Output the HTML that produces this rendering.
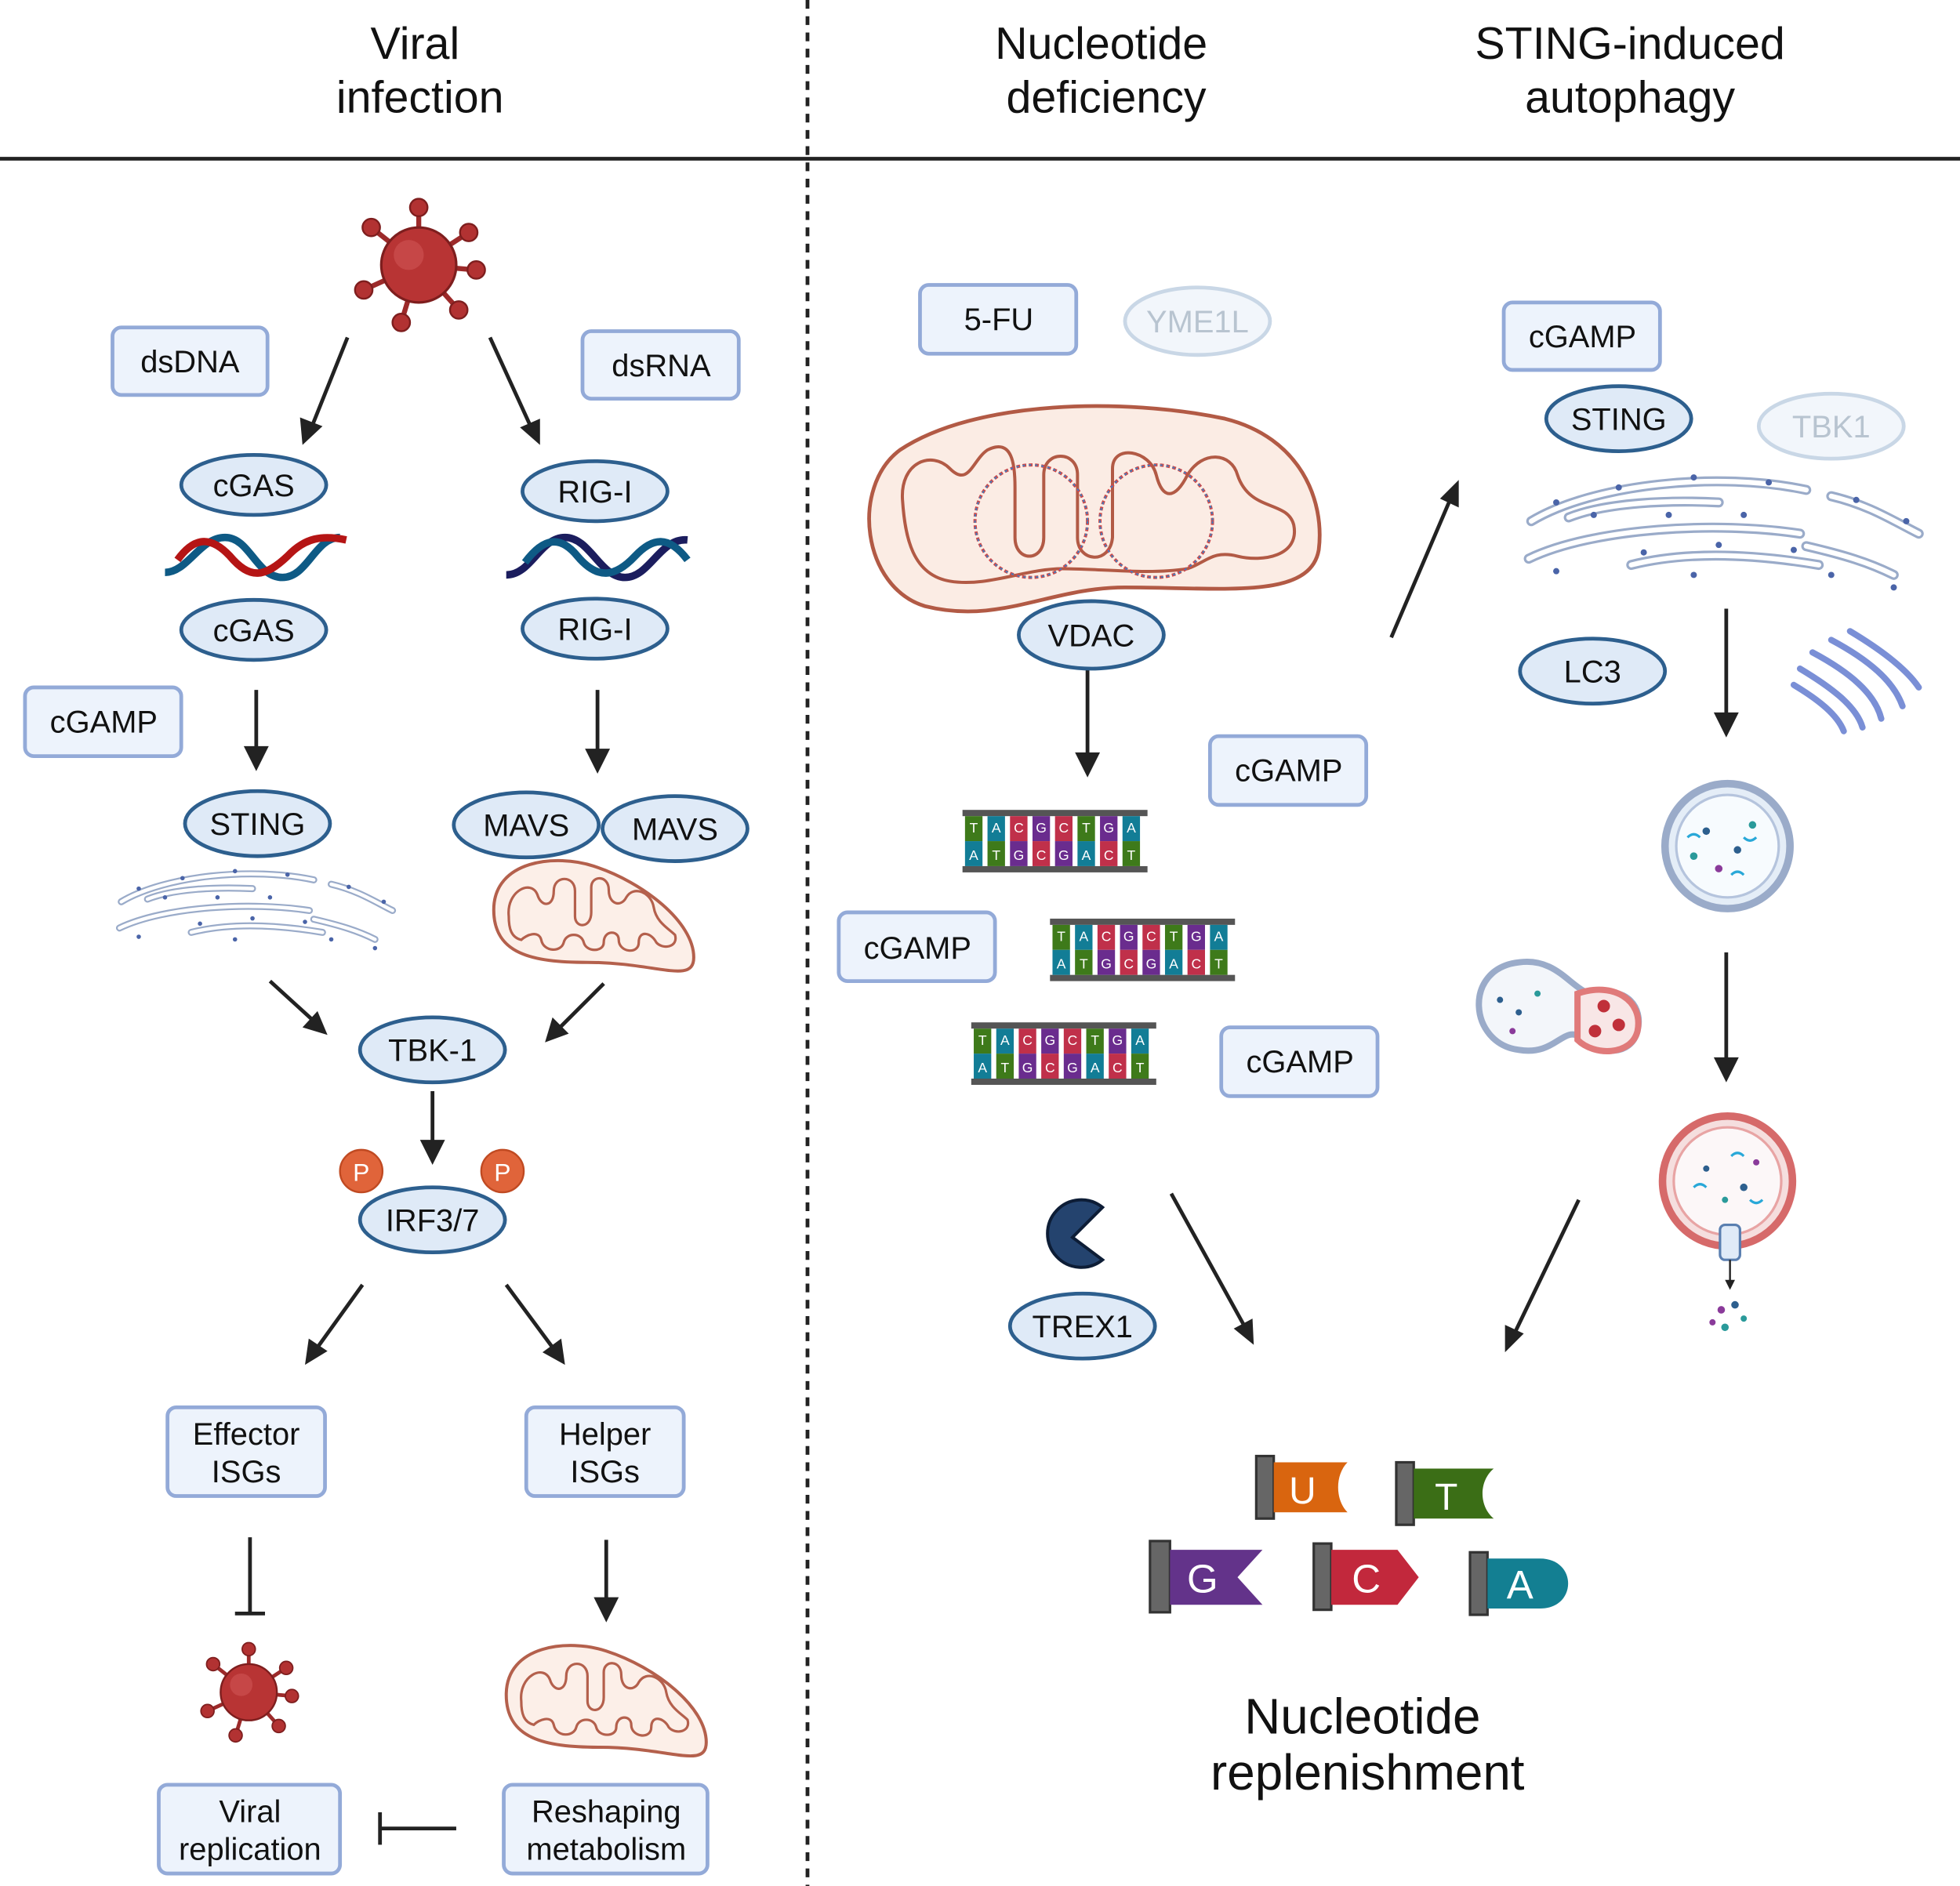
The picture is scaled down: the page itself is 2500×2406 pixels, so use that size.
<!DOCTYPE html>
<html><head><meta charset="utf-8"><style>
html,body{margin:0;padding:0;background:#fff}
svg{display:block}
text{font-family:"Liberation Sans",sans-serif;fill:#111}
</style></head><body>
<svg width="2500" height="2406" viewBox="0 0 1568 1509" preserveAspectRatio="none" xmlns="http://www.w3.org/2000/svg">
<defs>
<g id="virus">
 <g stroke="#9c2a2a" stroke-width="4">
  <line x1="0" y1="0" x2="0" y2="-46"/><line x1="0" y1="0" x2="40" y2="-26"/><line x1="0" y1="0" x2="46" y2="4"/>
  <line x1="0" y1="0" x2="32" y2="36"/><line x1="0" y1="0" x2="-14" y2="46"/><line x1="0" y1="0" x2="-44" y2="20"/>
  <line x1="0" y1="0" x2="-38" y2="-30"/>
 </g>
 <g fill="#b23232" stroke="#7e1e1e" stroke-width="1.5">
  <circle cx="0" cy="-46" r="7"/><circle cx="40" cy="-26" r="7"/><circle cx="46" cy="4" r="7"/><circle cx="32" cy="36" r="7"/>
  <circle cx="-14" cy="46" r="7"/><circle cx="-44" cy="20" r="7"/><circle cx="-38" cy="-30" r="7"/>
 </g>
 <circle r="30" fill="#b83434" stroke="#7e1e1e" stroke-width="2"/>
 <circle cx="-8" cy="-8" r="12" fill="#cf5555" opacity="0.6"/>
</g>
<g id="mito">
 <path d="M10,40 C10,0 60,-5 90,5 C130,18 170,50 170,78 C170,100 140,82 85,82 C40,82 10,75 10,40 Z" fill="#fcefe8" stroke="#b4604c" stroke-width="2.5"/>
 <path d="M22,45 C20,25 40,15 45,28 C48,38 58,38 58,25 C58,12 75,12 75,25 L75,45 C75,55 88,55 88,42 L88,22 C88,12 102,12 102,24 C102,36 112,38 116,30 C122,20 136,26 138,38 C140,50 150,55 155,60 C158,70 145,72 140,66 C136,58 126,56 126,66 C126,76 110,74 110,64 C110,56 98,56 98,66 C98,74 84,74 82,66 C80,58 68,58 66,66 C64,74 50,74 48,64 C46,56 36,60 32,64 C24,62 22,55 22,45 Z" fill="none" stroke="#b4604c" stroke-width="2"/>
</g>
<g id="er" fill="none">
 <g stroke="#9aabc9" stroke-width="8" stroke-linecap="round">
  <path d="M10,45 C60,15 160,5 230,20"/><path d="M40,42 C70,30 120,28 160,30"/><path d="M250,25 C280,32 300,45 320,55"/>
  <path d="M8,75 C60,50 160,45 225,55"/><path d="M90,80 C130,70 180,70 240,80"/><path d="M230,65 C260,72 280,78 300,88"/>
 </g>
 <g stroke="#fff" stroke-width="4" stroke-linecap="round">
  <path d="M10,45 C60,15 160,5 230,20"/><path d="M40,42 C70,30 120,28 160,30"/><path d="M250,25 C280,32 300,45 320,55"/>
  <path d="M8,75 C60,50 160,45 225,55"/><path d="M90,80 C130,70 180,70 240,80"/><path d="M230,65 C260,72 280,78 300,88"/>
 </g>
 <g fill="#4a64a8">
  <circle cx="30" cy="30" r="2.5"/><circle cx="80" cy="18" r="2.5"/><circle cx="140" cy="10" r="2.5"/><circle cx="200" cy="14" r="2.5"/>
  <circle cx="270" cy="28" r="2.5"/><circle cx="310" cy="45" r="2.5"/><circle cx="60" cy="40" r="2.5"/><circle cx="120" cy="40" r="2.5"/>
  <circle cx="180" cy="40" r="2.5"/><circle cx="30" cy="85" r="2.5"/><circle cx="100" cy="70" r="2.5"/><circle cx="160" cy="64" r="2.5"/>
  <circle cx="220" cy="68" r="2.5"/><circle cx="250" cy="88" r="2.5"/><circle cx="300" cy="98" r="2.5"/><circle cx="140" cy="88" r="2.5"/>
 </g>
</g>
<g id="ladder">
 <rect x="0" y="0" width="148" height="5" fill="#555"/><rect x="0" y="45" width="148" height="5" fill="#555"/>
 <g>
  <rect x="2" y="5" width="14" height="20" fill="#3e7a1a"/><rect x="2" y="25" width="14" height="20" fill="#127d96"/>
  <rect x="20" y="5" width="14" height="20" fill="#127d96"/><rect x="20" y="25" width="14" height="20" fill="#3e7a1a"/>
  <rect x="38" y="5" width="14" height="20" fill="#c0304a"/><rect x="38" y="25" width="14" height="20" fill="#6a2c8e"/>
  <rect x="56" y="5" width="14" height="20" fill="#6a2c8e"/><rect x="56" y="25" width="14" height="20" fill="#c0304a"/>
  <rect x="74" y="5" width="14" height="20" fill="#c0304a"/><rect x="74" y="25" width="14" height="20" fill="#6a2c8e"/>
  <rect x="92" y="5" width="14" height="20" fill="#3e7a1a"/><rect x="92" y="25" width="14" height="20" fill="#127d96"/>
  <rect x="110" y="5" width="14" height="20" fill="#6a2c8e"/><rect x="110" y="25" width="14" height="20" fill="#c0304a"/>
  <rect x="128" y="5" width="14" height="20" fill="#127d96"/><rect x="128" y="25" width="14" height="20" fill="#3e7a1a"/>
 </g>
</g>
</defs>

<style>
.p{fill:#dfeaf7;stroke:#2d5f8e;stroke-width:3}
.b{fill:#edf3fc;stroke:#93aad8;stroke-width:3}
.f{fill:#f2f6fb;stroke:#c9d7e6;stroke-width:3}
.a{stroke:#222;stroke-width:3;fill:none}
.t{font-size:25px;text-anchor:middle}
.h{font-size:36px;text-anchor:middle}
.l{font-size:11px;fill:#fff;text-anchor:middle}
</style>

<text class="h" x="332" y="47">Viral</text><text class="h" x="336" y="90">infection</text>
<text class="h" x="881" y="47">Nucleotide</text><text class="h" x="885" y="90">deficiency</text>
<text class="h" x="1304" y="47">STING-induced</text><text class="h" x="1304" y="90">autophagy</text>
<line x1="0" y1="127" x2="1568" y2="127" stroke="#222" stroke-width="3"/>
<line x1="646" y1="0" x2="646" y2="1509" stroke="#222" stroke-width="3" stroke-dasharray="7,6"/>

<g fill="#222">
<line class="a" x1="278" y1="270" x2="250" y2="340"/><polygon points="242,356 240,334 258,341"/>
<line class="a" x1="392" y1="270" x2="424" y2="340"/><polygon points="432,356 416,342 432,335"/>
<line class="a" x1="205" y1="552" x2="205" y2="600"/><polygon points="205,617 195,597 215,597"/>
<line class="a" x1="478" y1="552" x2="478" y2="600"/><polygon points="478,619 468,599 488,599"/>
<line class="a" x1="216" y1="785" x2="250" y2="816"/><polygon points="262,828 242,822 254,809"/>
<line class="a" x1="483" y1="787" x2="448" y2="822"/><polygon points="436,834 442,814 455,827"/>
<line class="a" x1="346" y1="873" x2="346" y2="915"/><polygon points="346,932 336,912 356,912"/>
<line class="a" x1="290" y1="1028" x2="254" y2="1078"/><polygon points="244,1092 247,1071 262,1081"/>
<line class="a" x1="405" y1="1028" x2="442" y2="1078"/><polygon points="452,1092 434,1082 449,1071"/>
<line class="a" x1="200" y1="1230" x2="200" y2="1291"/><line class="a" x1="188" y1="1291" x2="212" y2="1291"/>
<line class="a" x1="485" y1="1232" x2="485" y2="1280"/><polygon points="485,1298 475,1278 495,1278"/>
<line class="a" x1="365" y1="1463" x2="304" y2="1463"/><line class="a" x1="304" y1="1450" x2="304" y2="1476"/>
<line class="a" x1="870" y1="535" x2="870" y2="605"/><polygon points="870,622 860,602 880,602"/>
<line class="a" x1="937" y1="955" x2="995" y2="1060"/><polygon points="1003,1076 987,1063 1002,1055"/>
<line class="a" x1="1113" y1="510" x2="1160" y2="400"/><polygon points="1167,384 1167,406 1152,399"/>
<line class="a" x1="1381" y1="487" x2="1381" y2="572"/><polygon points="1381,590 1371,570 1391,570"/>
<line class="a" x1="1381" y1="762" x2="1381" y2="848"/><polygon points="1381,866 1371,846 1391,846"/>
<line class="a" x1="1263" y1="960" x2="1212" y2="1066"/><polygon points="1204,1082 1204,1060 1219,1067"/>
</g>

<use href="#virus" x="335" y="212"/>
<rect class="b" x="90" y="262" width="124" height="54" rx="7"/><text class="t" x="152" y="298">dsDNA</text>
<rect class="b" x="466" y="265" width="125" height="54" rx="7"/><text class="t" x="529" y="301">dsRNA</text>

<ellipse class="p" cx="203" cy="388" rx="58" ry="24"/><text class="t" x="203" y="397">cGAS</text>
<path d="M132,458 C150,458 160,430 180,430 C200,430 205,462 226,462 C246,462 252,430 272,430" stroke="#0e5a85" stroke-width="6" fill="none"/>
<path d="M142,448 C155,430 168,428 184,445 C200,464 212,462 230,445 C244,430 258,428 277,432" stroke="#b51515" stroke-width="6" fill="none"/>
<ellipse class="p" cx="203" cy="504" rx="58" ry="24"/><text class="t" x="203" y="513">cGAS</text>

<ellipse class="p" cx="476" cy="393" rx="58" ry="24"/><text class="t" x="476" y="402">RIG-I</text>
<path d="M405,460 C425,460 432,430 452,430 C472,430 480,462 500,462 C520,462 528,430 550,432" stroke="#1b1d5e" stroke-width="6" fill="none"/>
<path d="M420,450 C435,430 448,428 462,445 C478,464 492,462 508,445 C522,430 535,428 550,448" stroke="#0e5a85" stroke-width="6" fill="none"/>
<ellipse class="p" cx="476" cy="503" rx="58" ry="24"/><text class="t" x="476" y="512">RIG-I</text>

<rect class="b" x="20" y="550" width="125" height="55" rx="7"/><text class="t" x="83" y="586">cGAMP</text>
<g transform="translate(90,690) scale(0.7)"><use href="#er"/></g>
<g transform="translate(385,688)"><use href="#mito"/></g>
<ellipse class="p" cx="206" cy="659" rx="58" ry="26"/><text class="t" x="206" y="668">STING</text>
<ellipse class="p" cx="421" cy="660" rx="58" ry="26"/><text class="t" x="421" y="669">MAVS</text>
<ellipse class="p" cx="540" cy="663" rx="58" ry="26"/><text class="t" x="540" y="672">MAVS</text>

<ellipse class="p" cx="346" cy="840" rx="58" ry="26"/><text class="t" x="346" y="849">TBK-1</text>
<circle cx="289" cy="937" r="17" fill="#e0643a" stroke="#c04a22" stroke-width="1.5"/><text x="289" y="945" style="font-size:20px;text-anchor:middle;fill:#fff">P</text>
<circle cx="402" cy="937" r="17" fill="#e0643a" stroke="#c04a22" stroke-width="1.5"/><text x="402" y="945" style="font-size:20px;text-anchor:middle;fill:#fff">P</text>
<ellipse class="p" cx="346" cy="976" rx="58" ry="26"/><text class="t" x="346" y="985">IRF3/7</text>

<rect class="b" x="134" y="1126" width="126" height="71" rx="7"/><text class="t" x="197" y="1156">Effector</text><text class="t" x="197" y="1186">ISGs</text>
<rect class="b" x="421" y="1126" width="126" height="71" rx="7"/><text class="t" x="484" y="1156">Helper</text><text class="t" x="484" y="1186">ISGs</text>
<g transform="translate(199,1354) scale(0.75)"><use href="#virus"/></g>
<g transform="translate(395,1316)"><use href="#mito"/></g>
<rect class="b" x="127" y="1428" width="145" height="71" rx="7"/><text class="t" x="200" y="1458">Viral</text><text class="t" x="200" y="1488">replication</text>
<rect class="b" x="403" y="1428" width="163" height="71" rx="7"/><text class="t" x="485" y="1458">Reshaping</text><text class="t" x="485" y="1488">metabolism</text>

<rect class="b" x="736" y="228" width="125" height="55" rx="7"/><text class="t" x="799" y="264">5-FU</text>
<ellipse class="f" cx="958" cy="257" rx="58" ry="27"/><text class="t" x="958" y="266" style="fill:#b8c4d0">YME1L</text>
<path d="M720,360 C780,320 900,318 980,335 C1040,350 1060,400 1055,440 C1048,480 980,470 900,470 C840,470 800,500 740,485 C690,470 680,390 720,360 Z" fill="#fbece4" stroke="#b25a45" stroke-width="3"/>
<path d="M722,400 C720,370 745,360 760,375 C775,390 778,368 790,360 C810,350 812,372 812,390 L812,430 C812,450 835,450 835,430 L835,380 C835,360 862,360 862,380 L862,430 C862,450 888,452 890,430 L890,375 C890,355 920,360 925,380 C930,400 940,400 950,380 C962,360 985,362 990,380 C1000,410 1030,400 1035,420 C1040,445 1010,450 990,445 C970,440 965,450 950,455 C920,460 880,455 850,455 C820,455 790,470 760,465 C730,460 724,430 722,400 Z" fill="none" stroke="#b25a45" stroke-width="2.5"/>
<circle cx="825" cy="417" r="45" fill="none" stroke="#d04848" stroke-width="2.5" stroke-dasharray="3,2"/>
<circle cx="825" cy="417" r="45" fill="none" stroke="#3f7fbf" stroke-width="1.2" stroke-dasharray="2,3"/>
<circle cx="925" cy="417" r="45" fill="none" stroke="#d04848" stroke-width="2.5" stroke-dasharray="3,2"/>
<circle cx="925" cy="417" r="45" fill="none" stroke="#3f7fbf" stroke-width="1.2" stroke-dasharray="2,3"/>
<ellipse class="p" cx="873" cy="508" rx="58" ry="27"/><text class="t" x="873" y="517">VDAC</text>

<rect class="b" x="968" y="589" width="125" height="55" rx="7"/><text class="t" x="1031" y="625">cGAMP</text>
<use href="#ladder" x="770" y="648"/>
<text class="l" x="779" y="666">T</text><text class="l" x="797" y="666">A</text><text class="l" x="815" y="666">C</text><text class="l" x="833" y="666">G</text><text class="l" x="851" y="666">C</text><text class="l" x="869" y="666">T</text><text class="l" x="887" y="666">G</text><text class="l" x="905" y="666">A</text>
<text class="l" x="779" y="688">A</text><text class="l" x="797" y="688">T</text><text class="l" x="815" y="688">G</text><text class="l" x="833" y="688">C</text><text class="l" x="851" y="688">G</text><text class="l" x="869" y="688">A</text><text class="l" x="887" y="688">C</text><text class="l" x="905" y="688">T</text>
<use href="#ladder" x="840" y="735"/>
<text class="l" x="849" y="753">T</text><text class="l" x="867" y="753">A</text><text class="l" x="885" y="753">C</text><text class="l" x="903" y="753">G</text><text class="l" x="921" y="753">C</text><text class="l" x="939" y="753">T</text><text class="l" x="957" y="753">G</text><text class="l" x="975" y="753">A</text>
<text class="l" x="849" y="775">A</text><text class="l" x="867" y="775">T</text><text class="l" x="885" y="775">G</text><text class="l" x="903" y="775">C</text><text class="l" x="921" y="775">G</text><text class="l" x="939" y="775">A</text><text class="l" x="957" y="775">C</text><text class="l" x="975" y="775">T</text>
<use href="#ladder" x="777" y="818"/>
<text class="l" x="786" y="836">T</text><text class="l" x="804" y="836">A</text><text class="l" x="822" y="836">C</text><text class="l" x="840" y="836">G</text><text class="l" x="858" y="836">C</text><text class="l" x="876" y="836">T</text><text class="l" x="894" y="836">G</text><text class="l" x="912" y="836">A</text>
<text class="l" x="786" y="858">A</text><text class="l" x="804" y="858">T</text><text class="l" x="822" y="858">G</text><text class="l" x="840" y="858">C</text><text class="l" x="858" y="858">G</text><text class="l" x="876" y="858">A</text><text class="l" x="894" y="858">C</text><text class="l" x="912" y="858">T</text>
<rect class="b" x="671" y="730" width="125" height="55" rx="7"/><text class="t" x="734" y="767">cGAMP</text>
<rect class="b" x="977" y="822" width="125" height="55" rx="7"/><text class="t" x="1040" y="858">cGAMP</text>

<path d="M882,966 A27,27 0 1,0 882,1008 L858,990 Z" fill="#24436e" stroke="#0d1d36" stroke-width="2.5"/>
<ellipse class="p" cx="866" cy="1061" rx="58" ry="26"/><text class="t" x="866" y="1070">TREX1</text>

<rect class="b" x="1203" y="242" width="125" height="54" rx="7"/><text class="t" x="1266" y="278">cGAMP</text>
<ellipse class="p" cx="1295" cy="335" rx="58" ry="26"/><text class="t" x="1295" y="344">STING</text>
<ellipse class="f" cx="1465" cy="341" rx="58" ry="26"/><text class="t" x="1465" y="350" style="fill:#b8c4d0">TBK1</text>
<use href="#er" x="1215" y="372"/>
<ellipse class="p" cx="1274" cy="537" rx="58" ry="26"/><text class="t" x="1274" y="546">LC3</text>
<g fill="none" stroke="#7a8fd6" stroke-width="5" stroke-linecap="round">
 <path d="M1480,505 C1505,520 1525,535 1535,550"/><path d="M1465,512 C1495,528 1515,545 1522,565"/>
 <path d="M1450,522 C1480,538 1500,555 1505,575"/><path d="M1440,535 C1465,550 1485,565 1490,582"/>
 <path d="M1435,548 C1455,560 1470,572 1475,585"/>
</g>
<circle cx="1382" cy="677" r="50" fill="#e4edf7" stroke="#9aabc9" stroke-width="6"/>
<circle cx="1382" cy="677" r="41" fill="#f7fbfe" stroke="#b5c4dd" stroke-width="2"/>
<g fill="#2d5f8e"><circle cx="1365" cy="665" r="3"/><circle cx="1390" cy="680" r="3"/><circle cx="1402" cy="660" r="3" fill="#2a9a9a"/><circle cx="1375" cy="695" r="3" fill="#8a3a9a"/><circle cx="1355" cy="685" r="3" fill="#2a9a9a"/></g>
<g stroke="#29a8d8" stroke-width="2" fill="none"><path d="M1350,670 q5,-5 10,0"/><path d="M1385,700 q5,-5 10,0"/><path d="M1395,670 q5,5 10,0"/></g>

<path d="M1215,770 C1250,765 1260,800 1280,795 C1300,790 1315,805 1310,825 C1305,845 1280,845 1265,830 C1250,820 1245,845 1215,840 C1175,835 1170,775 1215,770 Z" fill="#f3f6fa" stroke="#9aabc9" stroke-width="5"/>
<path d="M1262,795 C1290,785 1315,800 1310,825 C1305,845 1275,845 1262,832 Z" fill="#f8e6e6" stroke="#e07a7a" stroke-width="5"/>
<g fill="#c0303a"><circle cx="1283" cy="805" r="5"/><circle cx="1295" cy="820" r="5"/><circle cx="1276" cy="825" r="5"/></g>
<g fill="#2d5f8e"><circle cx="1200" cy="800" r="2.5"/><circle cx="1215" cy="810" r="2.5"/><circle cx="1230" cy="795" r="2.5" fill="#2a9a9a"/><circle cx="1210" cy="825" r="2.5" fill="#8a3a9a"/></g>

<circle cx="1382" cy="945" r="52" fill="#f5dede" stroke="#d66a6a" stroke-width="6"/>
<circle cx="1382" cy="945" r="43" fill="#fcf7f8" stroke="#e8a4a4" stroke-width="2"/>
<g fill="#2d5f8e"><circle cx="1365" cy="935" r="2.5"/><circle cx="1395" cy="950" r="3"/><circle cx="1380" cy="960" r="2.5" fill="#2a9a9a"/><circle cx="1405" cy="930" r="2.5" fill="#8a3a9a"/></g>
<g stroke="#29a8d8" stroke-width="2" fill="none"><path d="M1355,950 q5,-5 10,0"/><path d="M1385,925 q5,-5 10,0"/><path d="M1400,960 q5,5 10,0"/></g>
<rect x="1376" y="980" width="16" height="28" rx="4" fill="#dfeaf7" stroke="#5a7fb0" stroke-width="2"/>
<line x1="1384" y1="1008" x2="1384" y2="1028" stroke="#222" stroke-width="1.5"/><polygon points="1384,1032 1380,1024 1388,1024" fill="#222"/>
<g><circle cx="1377" cy="1048" r="3" fill="#8a3a9a"/><circle cx="1388" cy="1044" r="3" fill="#2d5f8e"/><circle cx="1395" cy="1055" r="2.5" fill="#2a9a9a"/><circle cx="1380" cy="1062" r="3" fill="#2a9a9a"/><circle cx="1370" cy="1058" r="2.5" fill="#8a3a9a"/></g>

<rect x="1005" y="1165" width="14" height="50" fill="#666" stroke="#333" stroke-width="2"/>
<path d="M1019,1170 L1078,1170 C1068,1180 1068,1200 1078,1210 L1019,1210 Z" fill="#d9650f"/>
<text x="1042" y="1203" style="font-size:30px;fill:#fff;text-anchor:middle">U</text>
<rect x="1117" y="1170" width="14" height="50" fill="#666" stroke="#333" stroke-width="2"/>
<path d="M1131,1175 L1195,1175 C1183,1185 1183,1205 1195,1215 L1131,1215 Z" fill="#3b6e16"/>
<text x="1157" y="1208" style="font-size:30px;fill:#fff;text-anchor:middle">T</text>
<rect x="920" y="1233" width="16" height="57" fill="#666" stroke="#333" stroke-width="2"/>
<path d="M936,1240 L1010,1240 L990,1262 L1010,1284 L936,1284 Z" fill="#63338a"/>
<text x="962" y="1274" style="font-size:32px;fill:#fff;text-anchor:middle">G</text>
<rect x="1051" y="1235" width="14" height="53" fill="#666" stroke="#333" stroke-width="2"/>
<path d="M1065,1240 L1118,1240 L1135,1262 L1118,1284 L1065,1284 Z" fill="#c2283c"/>
<text x="1093" y="1274" style="font-size:32px;fill:#fff;text-anchor:middle">C</text>
<rect x="1176" y="1242" width="14" height="50" fill="#666" stroke="#333" stroke-width="2"/>
<path d="M1190,1247 L1232,1247 C1262,1247 1262,1287 1232,1287 L1190,1287 Z" fill="#137f92"/>
<text x="1216" y="1279" style="font-size:32px;fill:#fff;text-anchor:middle">A</text>

<text class="h" x="1090" y="1387" style="font-size:40px">Nucleotide</text>
<text class="h" x="1094" y="1432" style="font-size:40px">replenishment</text>
</svg>
</body></html>
